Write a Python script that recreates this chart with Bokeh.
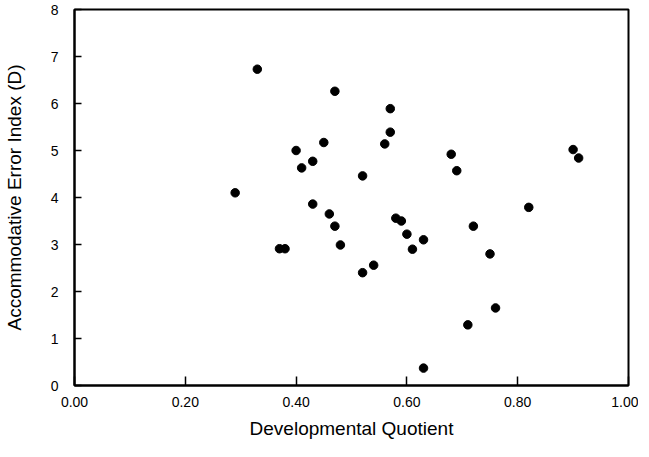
from bokeh.plotting import figure
from bokeh.models import FixedTicker, Range1d, CustomJSTickFormatter
from bokeh.embed import file_html
from bokeh.resources import INLINE

dq = [0.33, 0.29, 0.40, 0.41, 0.43, 0.45, 0.43, 0.47, 0.57, 0.57, 0.56, 0.52,
      0.68, 0.69, 0.90, 0.91, 0.82, 0.46, 0.58, 0.59, 0.47, 0.48, 0.60, 0.61,
      0.63, 0.72, 0.75, 0.76, 0.71, 0.63, 0.52, 0.54, 0.37, 0.38]
aei = [6.73, 4.10, 5.00, 4.63, 4.77, 5.17, 3.86, 6.26, 5.89, 5.39, 5.14, 4.46,
       4.92, 4.57, 5.02, 4.84, 3.79, 3.65, 3.56, 3.50, 3.39, 2.99, 3.22, 2.90,
       3.10, 3.39, 2.80, 1.65, 1.29, 0.37, 2.40, 2.56, 2.91, 2.91]

x_ticks = [0.0, 0.2, 0.4, 0.6, 0.8, 1.0]
y_ticks = [0, 1, 2, 3, 4, 5, 6, 7, 8]

p = figure(width=635, height=441, output_backend="svg", toolbar_location=None,
           x_range=Range1d(0, 1), y_range=Range1d(0, 8),
           min_border_left=71, min_border_top=9, min_border_right=10,
           min_border_bottom=56)
p.frame_width = 554
p.frame_height = 376

p.scatter(dq, aei, size=8.5, color="black", line_color="black")

p.xgrid.visible = False
p.ygrid.visible = False
p.outline_line_color = "black"
p.outline_line_width = 2
p.background_fill_color = "white"
p.border_fill_color = "white"

font = "Liberation Sans"
for ax in (p.xaxis[0], p.yaxis[0]):
    ax.axis_line_color = "black"
    ax.axis_line_width = 2
    ax.major_tick_line_color = "black"
    ax.major_tick_line_width = 1.5
    ax.minor_tick_line_color = None
    ax.major_tick_out = 0
    ax.major_label_text_font = font
    ax.major_label_text_font_size = "14px"
    ax.major_label_text_color = "black"
    ax.axis_label_text_font = font
    ax.axis_label_text_font_size = "19px"
    ax.axis_label_text_font_style = "normal"
    ax.axis_label_text_color = "black"

xa = p.xaxis[0]
xa.ticker = FixedTicker(ticks=x_ticks)
xa.formatter = CustomJSTickFormatter(code="return tick.toFixed(2);")
xa.major_tick_in = 9
xa.major_label_standoff = 11
xa.axis_label = "Developmental Quotient"
xa.axis_label_standoff = 8

ya = p.yaxis[0]
ya.ticker = FixedTicker(ticks=y_ticks)
ya.formatter = CustomJSTickFormatter(code="return tick.toFixed(0);")
ya.major_tick_in = 7
ya.major_label_standoff = 16
ya.axis_label = "Accommodative Error Index (D)"
ya.axis_label_standoff = 23

open("out.html", "w").write(file_html(p, INLINE))
